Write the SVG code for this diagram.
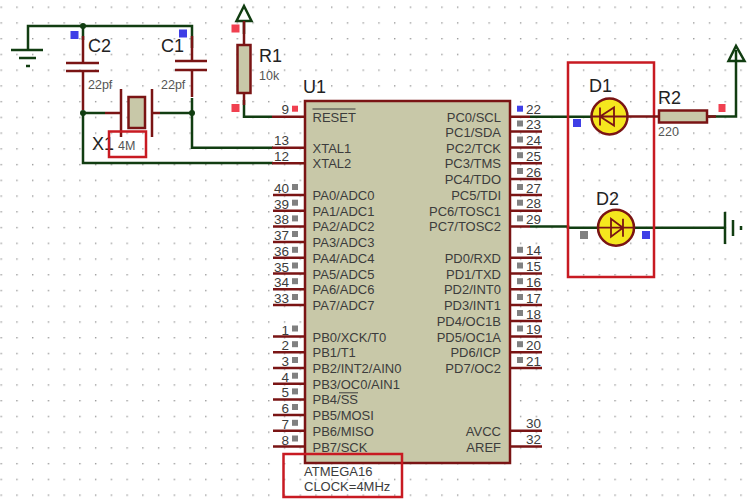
<svg xmlns="http://www.w3.org/2000/svg" width="756" height="500" viewBox="0 0 756 500" font-family="'Liberation Sans', Arial, sans-serif">
<style>
.w{fill:none;stroke:#113d11;stroke-width:2.5}
.p{fill:none;stroke:#7a1414;stroke-width:2.5}
.b{fill:#c8c8a8;stroke:#7a1414;stroke-width:2.5}
.y{fill:#f5e71e;stroke:#7a1414;stroke-width:2.5}
.r{fill:none;stroke:#c81a22;stroke-width:2.5}
.j{fill:#113d11}
.lg{font-size:18px;fill:#222}
.sm{font-size:12.5px;fill:#555}
.t{font-size:13px;fill:#3c3c3c}
.e{text-anchor:end}
.n{font-size:13.5px;fill:#3c3c3c}
.sq{fill:#808080}
.bl{fill:#3f3fe6}
.rd{fill:#f04050}
</style>
<defs>
<pattern id="grid" patternUnits="userSpaceOnUse" x="0.5" y="6.500" width="15.74" height="15.74"><rect width="1.4" height="1.4" fill="#9a9a9a"/></pattern>
</defs>
<rect width="756" height="500" fill="#fff"/>
<rect width="756" height="500" fill="url(#grid)"/>
<g id="connectors">
<path class="w" d="M28 50V26H192V48M83 26V40"/>
<path class="w" d="M83 113V163H273M192 98V147.7H273M83 113H105M160 113H192"/>
<path class="w" d="M244 20V34M244 100V116.7H272"/>
<path class="w" d="M530 116.7H591M530 226.4H568V227.7H598M634 227.7H725"/>
<path class="w" d="M707 116.5H736V50"/>
<circle class="j" cx="83" cy="26" r="3"/>
<circle class="j" cx="83" cy="113" r="3"/>
<circle class="j" cx="192" cy="113" r="3"/>
</g>
<g id="GND1"><path class="w" d="M11 50H43M19 58H36"/><path class="w" d="M26 66H30"/></g>
<g id="C2"><path class="p" d="M83 36V63M66 63H99M66 71H99M83 71V110"/><text class="lg" x="88" y="52">C2</text><text class="sm" x="88" y="89">22pf</text><rect class="bl" x="70.500" y="31" width="8" height="8"/></g>
<g id="C1"><path class="p" d="M192 36V61M175 61H207M175 70H207M192 70V97"/><text class="lg" x="161" y="52">C1</text><text class="sm" x="161" y="89">22pf</text><rect class="bl" x="179" y="29.500" width="8" height="8"/></g>
<g id="X1"><path class="p" d="M105 113H120M160 113H152M121 89V137M152 89V137"/><rect class="b" x="128.500" y="97" width="16.500" height="31"/><text class="lg" x="92" y="150">X1</text><rect x="109" y="131.500" width="37" height="25.500" fill="#fff" class="r"/><text class="sm" x="118" y="150">4M</text></g>
<g id="R1"><path class="w" d="M236.500 21L244 6L251.500 21Z"/><path class="p" d="M244 21V45M244 93V105"/><rect class="b" x="237.500" y="45" width="13" height="48"/><text class="lg" x="259" y="62">R1</text><text class="sm" x="259" y="80">10k</text><rect class="rd" x="231.500" y="24.500" width="8" height="8"/><rect class="rd" x="231.500" y="104" width="8" height="8"/></g>
<g id="U1">
<rect class="b" x="305" y="101" width="205" height="362"/>
<text class="lg" x="303" y="93">U1</text>
<path class="p" d="M272 116.700H305M272 147.700H305M272 163.200H305M273 195H305M273 210.700H305M273 226.400H305M273 242H305M273 257.800H305M273 273.500H305M273 289.200H305M273 305H305M273 336.500H305M273 352.200H305M273 368H305M273 383.700H305M273 399.400H305M273 415H305M273 430.800H305M273 446.500H305"/>
<path class="p" d="M510 116.700H530M510 131.500H542M510 147.500H542M510 163.200H542M510 179H542M510 195H542M510 210.700H542M510 226.400H530M510 257.800H542M510 273.500H542M510 289.200H542M510 305H542M510 321H542M510 336.500H542M510 352.200H542M510 368H542M510 430.800H542M510 446.500H542"/>
<path d="M312.500 109H355.500M339 392.800H358" fill="none" stroke="#3c3c3c" stroke-width="1"/>
<g class="t">
<text class="t" x="312.500" y="121.500">RESET</text><text class="t" x="312.500" y="152.500">XTAL1</text><text class="t" x="312.500" y="168">XTAL2</text>
<text class="t" x="312.500" y="200">PA0/ADC0</text><text class="t" x="312.500" y="215.700">PA1/ADC1</text><text class="t" x="312.500" y="231.400">PA2/ADC2</text><text class="t" x="312.500" y="247">PA3/ADC3</text><text class="t" x="312.500" y="262.800">PA4/ADC4</text><text class="t" x="312.500" y="278.500">PA5/ADC5</text><text class="t" x="312.500" y="294.200">PA6/ADC6</text><text class="t" x="312.500" y="310">PA7/ADC7</text>
<text class="t" x="312.500" y="341.500">PB0/XCK/T0</text><text class="t" x="312.500" y="357.200">PB1/T1</text><text class="t" x="312.500" y="373">PB2/INT2/AIN0</text><text class="t" x="312.500" y="388.700">PB3/OC0/AIN1</text><text class="t" x="312.500" y="404.400">PB4/SS</text><text class="t" x="312.500" y="420">PB5/MOSI</text><text class="t" x="312.500" y="435.800">PB6/MISO</text><text class="t" x="312.500" y="451.500">PB7/SCK</text>
<text class="t e" x="501" y="121.500">PC0/SCL</text><text class="t e" x="501" y="136.500">PC1/SDA</text><text class="t e" x="501" y="152.500">PC2/TCK</text><text class="t e" x="501" y="168">PC3/TMS</text><text class="t e" x="501" y="184">PC4/TDO</text><text class="t e" x="501" y="200">PC5/TDI</text><text class="t e" x="501" y="215.700">PC6/TOSC1</text><text class="t e" x="501" y="231.400">PC7/TOSC2</text>
<text class="t e" x="501" y="262.800">PD0/RXD</text><text class="t e" x="501" y="278.500">PD1/TXD</text><text class="t e" x="501" y="294.200">PD2/INT0</text><text class="t e" x="501" y="310">PD3/INT1</text><text class="t e" x="501" y="326">PD4/OC1B</text><text class="t e" x="501" y="341.500">PD5/OC1A</text><text class="t e" x="501" y="357.200">PD6/ICP</text><text class="t e" x="501" y="373">PD7/OC2</text>
<text class="t e" x="501" y="435.800">AVCC</text><text class="t e" x="501" y="451.500">AREF</text>
</g>
<text class="n e" x="289" y="113.500">9</text><text class="n e" x="289" y="145">13</text><text class="n e" x="289" y="161">12</text><text class="n e" x="289" y="193">40</text><text class="n e" x="289" y="208.700">39</text><text class="n e" x="289" y="224.400">38</text><text class="n e" x="289" y="240">37</text><text class="n e" x="289" y="255.800">36</text><text class="n e" x="289" y="271.500">35</text><text class="n e" x="289" y="287.200">34</text><text class="n e" x="289" y="303">33</text><text class="n e" x="289" y="334.500">1</text><text class="n e" x="289" y="350.200">2</text><text class="n e" x="289" y="366">3</text><text class="n e" x="289" y="381.700">4</text><text class="n e" x="289" y="397.400">5</text><text class="n e" x="289" y="413">6</text><text class="n e" x="289" y="428.800">7</text><text class="n e" x="289" y="444.500">8</text>
<text class="n" x="526" y="114">22</text><text class="n" x="526" y="129">23</text><text class="n" x="526" y="145">24</text><text class="n" x="526" y="161">25</text><text class="n" x="526" y="176.500">26</text><text class="n" x="526" y="192.500">27</text><text class="n" x="526" y="208.200">28</text><text class="n" x="526" y="223.900">29</text><text class="n" x="526" y="255.300">14</text><text class="n" x="526" y="271">15</text><text class="n" x="526" y="286.700">16</text><text class="n" x="526" y="302.500">17</text><text class="n" x="526" y="318.500">18</text><text class="n" x="526" y="334">19</text><text class="n" x="526" y="349.700">20</text><text class="n" x="526" y="365.500">21</text><text class="n" x="526" y="428.300">30</text><text class="n" x="526" y="444">32</text>
<rect class="rd" x="292" y="105.700" width="6" height="6"/><rect class="bl" x="517" y="105.700" width="6" height="6"/>
<g class="sq"><rect x="292" y="184" width="6" height="6"/><rect x="292" y="199.700" width="6" height="6"/><rect x="292" y="215.400" width="6" height="6"/><rect x="292" y="231" width="6" height="6"/><rect x="292" y="246.800" width="6" height="6"/><rect x="292" y="262.500" width="6" height="6"/><rect x="292" y="278.200" width="6" height="6"/><rect x="292" y="294" width="6" height="6"/><rect x="292" y="325.500" width="6" height="6"/><rect x="292" y="341.200" width="6" height="6"/><rect x="292" y="357" width="6" height="6"/><rect x="292" y="372.700" width="6" height="6"/><rect x="292" y="388.400" width="6" height="6"/><rect x="292" y="404" width="6" height="6"/><rect x="292" y="419.800" width="6" height="6"/><rect x="292" y="435.500" width="6" height="6"/>
<rect x="517" y="120.500" width="6" height="6"/><rect x="517" y="136.500" width="6" height="6"/><rect x="517" y="152.200" width="6" height="6"/><rect x="517" y="168" width="6" height="6"/><rect x="517" y="184" width="6" height="6"/><rect x="517" y="199.700" width="6" height="6"/><rect x="517" y="215.400" width="6" height="6"/><rect x="517" y="246.800" width="6" height="6"/><rect x="517" y="262.500" width="6" height="6"/><rect x="517" y="278.200" width="6" height="6"/><rect x="517" y="294" width="6" height="6"/><rect x="517" y="310" width="6" height="6"/><rect x="517" y="325.500" width="6" height="6"/><rect x="517" y="341.200" width="6" height="6"/><rect x="517" y="357" width="6" height="6"/></g>
<text class="t" x="304" y="476">ATMEGA16</text><text class="t" x="304" y="491">CLOCK=4MHz</text>
<rect class="r" x="283.500" y="454" width="118.500" height="43"/>
</g>
<g id="D1"><circle class="y" cx="609.500" cy="116.500" r="18"/><path class="p" d="M591 116.500H628M600 116.500L614 107.500V125.500ZM600 107.500V125.500" style="stroke-width:1.800"/><text class="lg" x="589" y="92">D1</text><rect class="bl" x="573" y="119" width="8" height="8"/></g>
<g id="D2"><circle class="y" cx="616" cy="227.700" r="18"/><path class="p" d="M598 227.700H634M611 218.700V236.700L623 227.700ZM623 218.700V236.700" style="stroke-width:1.800"/><text class="lg" x="596" y="205">D2</text><rect class="sq" x="580" y="231" width="8" height="8"/><rect class="bl" x="642" y="231" width="8" height="8"/></g>
<rect id="LEDBox" class="r" x="568" y="62.500" width="86" height="214.500"/>
<g id="R2"><path class="p" d="M628 116.500H659M707 116.500H716"/><rect class="b" x="659" y="110.500" width="48" height="12"/><text class="lg" x="658" y="104">R2</text><text class="sm" x="658" y="136">220</text><rect class="rd" x="718.500" y="104" width="7" height="8"/></g>
<g id="VCC2"><path class="w" d="M728.500 61L736 46L744.500 61Z"/></g>
<g id="GND2"><path class="w" d="M725 212V244M733 220V236"/><path class="w" d="M741 226V230"/></g>
</svg>
